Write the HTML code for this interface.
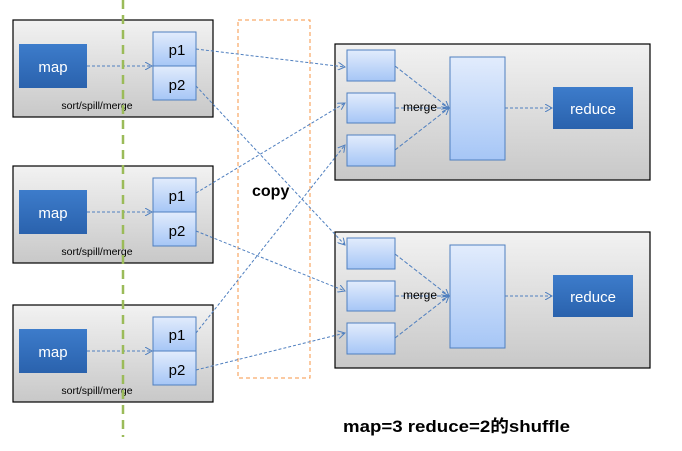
<!DOCTYPE html>
<html><head><meta charset="utf-8"><style>body{margin:0;background:#fff}svg{display:block}</style></head><body>
<svg width="682" height="451" viewBox="0 0 682 451" xmlns="http://www.w3.org/2000/svg" font-family="Liberation Sans, Noto Sans CJK SC, sans-serif">
<defs>
<linearGradient id="g" x1="0" y1="0" x2="0" y2="1"><stop offset="0" stop-color="#f2f2f2"/><stop offset="1" stop-color="#c8c8c8"/></linearGradient>
<linearGradient id="lb" x1="0" y1="0" x2="0" y2="1"><stop offset="0" stop-color="#e2ecfc"/><stop offset="1" stop-color="#a6c6f6"/></linearGradient>
<linearGradient id="db" x1="0" y1="0" x2="0" y2="1"><stop offset="0" stop-color="#3d7ccb"/><stop offset="1" stop-color="#2a62ad"/></linearGradient>
<marker id="a" markerWidth="8" markerHeight="8" refX="7" refY="4" orient="auto" markerUnits="userSpaceOnUse"><path d="M0,0 L7,4 L0,8" fill="none" stroke="#4f7fbf" stroke-width="1"/></marker>
</defs>
<g id="m1">
<rect x="13" y="20" width="200" height="97" fill="url(#g)" stroke="#000" stroke-width="1.2"/>
<rect x="19" y="44" width="68" height="44" fill="url(#db)"/>
<text x="53" y="72" font-size="15" fill="#fff" text-anchor="middle">map</text>
<rect x="153" y="32" width="43" height="34" fill="url(#lb)" stroke="#4f7fbf"/>
<rect x="153" y="66" width="43" height="34" fill="url(#lb)" stroke="#4f7fbf"/>
<text x="177" y="55" font-size="15" text-anchor="middle">p1</text>
<text x="177" y="90" font-size="15" text-anchor="middle">p2</text>
<text x="97" y="109" font-size="10.5" text-anchor="middle">sort/spill/merge</text>
<line x1="87" y1="66" x2="152" y2="66" stroke="#4f7fbf" stroke-dasharray="3,2" marker-end="url(#a)"/>
</g>
<use href="#m1" y="146"/>
<use href="#m1" y="285"/>
<line x1="123" y1="0" x2="123" y2="437" stroke="#9bbb59" stroke-width="2.5" stroke-dasharray="9,6"/>
<rect x="238" y="20" width="72" height="358" fill="none" stroke="#f79646" stroke-dasharray="4,3"/>
<text x="252" y="196" font-size="16" font-weight="bold">copy</text>
<g id="r1">
<rect x="335" y="44" width="315" height="136" fill="url(#g)" stroke="#000" stroke-width="1.2"/>
<rect x="347" y="50" width="48" height="31" fill="url(#lb)" stroke="#4f7fbf"/>
<rect x="347" y="93" width="48" height="30" fill="url(#lb)" stroke="#4f7fbf"/>
<rect x="347" y="135" width="48" height="31" fill="url(#lb)" stroke="#4f7fbf"/>
<rect x="450" y="57" width="55" height="103" fill="url(#lb)" stroke="#4f7fbf"/>
<rect x="553" y="87" width="80" height="42" fill="url(#db)"/>
<text x="593" y="114" font-size="15" fill="#fff" text-anchor="middle">reduce</text>
<line x1="395" y1="66" x2="449" y2="108" stroke="#4f7fbf" stroke-dasharray="4,2" marker-end="url(#a)"/>
<line x1="395" y1="108" x2="449" y2="108" stroke="#4f7fbf" stroke-dasharray="4,2" marker-end="url(#a)"/>
<line x1="395" y1="150" x2="449" y2="108" stroke="#4f7fbf" stroke-dasharray="4,2" marker-end="url(#a)"/>
<text x="403" y="111" font-size="12">merge</text>
<line x1="505" y1="108" x2="552" y2="108" stroke="#4f7fbf" stroke-dasharray="3,2" marker-end="url(#a)"/>
</g>
<use href="#r1" y="188"/>
<g stroke="#4f7fbf" stroke-dasharray="3,2" fill="none">
<line x1="196" y1="49" x2="345" y2="67" marker-end="url(#a)"/>
<line x1="196" y1="86" x2="345" y2="245" marker-end="url(#a)"/>
<line x1="196" y1="193" x2="345" y2="103" marker-end="url(#a)"/>
<line x1="196" y1="231" x2="345" y2="291" marker-end="url(#a)"/>
<line x1="196" y1="333" x2="345" y2="145" marker-end="url(#a)"/>
<line x1="196" y1="370" x2="345" y2="333" marker-end="url(#a)"/>
</g>
<text x="343" y="432" font-size="17" font-weight="bold" textLength="227" lengthAdjust="spacingAndGlyphs">map=3 reduce=2的shuffle</text>
</svg>
</body></html>
